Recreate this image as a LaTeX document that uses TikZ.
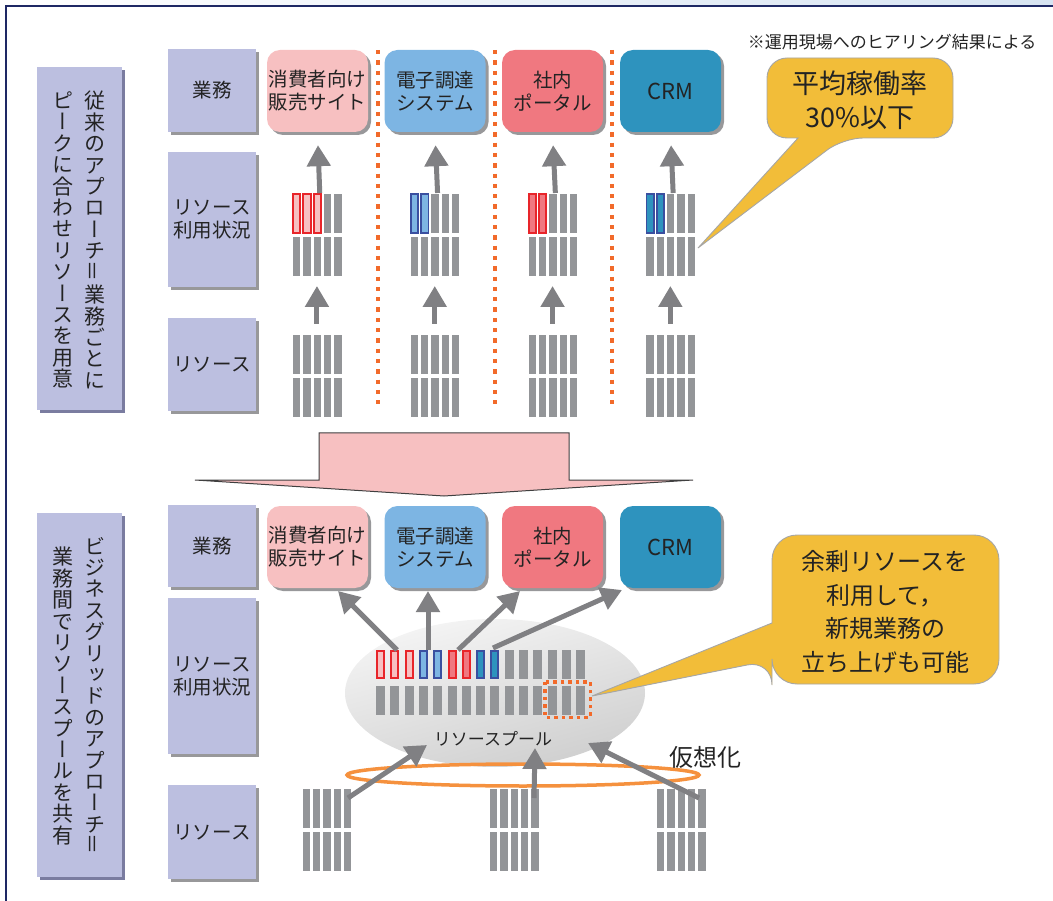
\documentclass[tikz,border=0pt]{standalone}
\usepackage{fontspec}
\usepackage{graphicx}
\setmainfont{Noto Sans CJK JP}
\newfontfamily\hjp{Noto Sans CJK JP}
\newfontfamily\vjp[RawFeature=+vert]{Noto Sans CJK JP}
\usetikzlibrary{arrows.meta,shadows,shapes.geometric}
\definecolor{lav}{RGB}{188,191,224}
\definecolor{lavsh}{RGB}{122,124,160}
\definecolor{sgray}{RGB}{152,152,154}
\definecolor{bargray}{RGB}{147,149,152}
\definecolor{agray}{RGB}{128,128,131}
\definecolor{cpink}{RGB}{247,192,193}
\definecolor{cblue}{RGB}{125,181,227}
\definecolor{cred}{RGB}{240,120,128}
\definecolor{cteal}{RGB}{46,147,190}
\definecolor{ored}{RGB}{232,37,42}
\definecolor{oblue}{RGB}{58,79,160}
\definecolor{sepor}{RGB}{242,106,42}
\definecolor{ringor}{RGB}{245,145,62}
\definecolor{gold}{RGB}{242,189,57}
\definecolor{navy}{RGB}{30,40,100}
\definecolor{topblue}{RGB}{215,228,242}
\definecolor{txt}{RGB}{35,35,35}
\newcommand\bargroup[2]{%
  \foreach \i in {0,...,4}{%
    \fill[bargray] ({#1+\i*10.3},#2) rectangle ++(7.3,39);
    \fill[bargray] ({#1+\i*10.3},{#2+43}) rectangle ++(7.3,39);
  }}
\tikzset{
  shd/.style={general shadow={fill=sgray, shadow xshift=3pt, shadow yshift=-3pt}},
  labbox/.style={fill=lav, minimum width=88pt, inner sep=0pt, text=txt, align=center,
     font=\fontsize{19.5}{23}\selectfont, shd},
  bigbox/.style={fill=lav, minimum width=85pt, inner sep=0pt,
     general shadow={fill=lavsh, shadow xshift=3pt, shadow yshift=-3pt}},
  vcol/.style={font=\vjp\fontsize{21}{21.4}\selectfont, text=txt, align=center, inner sep=0pt},
  biz/.style={rounded corners=13pt, minimum width=101pt, minimum height=82pt, inner sep=0pt,
     align=center, text=txt, font=\fontsize{19.5}{23}\selectfont, shd},
  garrow/.style={draw=agray, line width=5pt, -{Triangle[width=23pt,length=21pt]}},
  sepline/.style={draw=sepor, line width=4.3pt, dash pattern=on 4.3pt off 6pt},
  callout/.style={fill=gold, draw=gray!70, line width=0.9pt},
  cbar/.style={line width=1.8pt},
}
\begin{document}
\begin{tikzpicture}[x=1pt,y=-1pt]
\useasboundingbox (0,0) rectangle (1053,901);
% frame
\shade[left color=white, right color=topblue] (6,0) rectangle (1053,5);
\draw[navy, line width=1.6pt] (6,901) -- (6,6) -- (1053,6);

% left big labels
\node[bigbox, minimum height=343pt] (L1) at (79.5,238.5) {};
\node[vcol] (L1a) at (95,240) {従\\来\\の\\ア\\プ\\ロ\\ー\\チ\\{\hjp\rotatebox{90}{＝}}\\業\\務\\ご\\と\\に};
\node[vcol] (L1b) at (63,240) {ピ\\ー\\ク\\に\\合\\わ\\せ\\リ\\ソ\\ー\\ス\\を\\用\\意};
\node[bigbox, minimum height=364pt] (L2) at (79.5,695) {};
\node[vcol] (L2a) at (95,696) {ビ\\ジ\\ネ\\ス\\グ\\リ\\ッ\\ド\\の\\ア\\プ\\ロ\\ー\\チ\\{\hjp\rotatebox{90}{＝}}};
\node[vcol] (L2b) at (63,696) {業\\務\\間\\で\\リ\\ソ\\ー\\ス\\プ\\ー\\ル\\を\\共\\有};

% row label boxes
\node[labbox, minimum height=83pt] (g1) at (212,90.5) {業務};
\node[labbox, minimum height=135pt] (g2) at (212,219.5) {リソース\\利用状況};
\node[labbox, minimum height=93pt] (g3) at (212,364.5) {リソース};
\node[labbox, minimum height=82pt] (g4) at (212,546) {業務};
\node[labbox, minimum height=156pt] (g5) at (212,676) {リソース\\利用状況};
\node[labbox, minimum height=94pt] (g6) at (212,832) {リソース};

% separators
\foreach \x in {378,495,612} \draw[sepline] (\x,50) -- (\x,407);

% business boxes (top)
\node[biz, fill=cpink] (a1) at (317.5,91) {消費者向け\\販売サイト};
\node[biz, fill=cblue] (a2) at (435,91) {電子調達\\システム};
\node[biz, fill=cred] (a3) at (552.5,91) {社内\\ポータル};
\node[biz, fill=cteal, font=\fontsize{22}{26}\selectfont] (a4) at (670.5,91) {CRM};

% resource bars (top)
\foreach \k in {0,1,2,3}{
  \pgfmathsetmacro\xo{293+117.8*\k}
  \bargroup{\xo}{194}
  \bargroup{\xo}{335}
}
\foreach \i in {0,1,2} \filldraw[cbar, fill=cpink, draw=ored] ({293+\i*10.3},194) rectangle ++(7.3,39);
\foreach \i in {0,1} \filldraw[cbar, fill=cblue, draw=oblue] ({410.8+\i*10.3},194) rectangle ++(7.3,39);
\foreach \i in {0,1} \filldraw[cbar, fill=cred, draw=ored] ({528.6+\i*10.3},194) rectangle ++(7.3,39);
\foreach \i in {0,1} \filldraw[cbar, fill=cteal, draw=oblue] ({646.4+\i*10.3},194) rectangle ++(7.3,39);

% arrows (top)
\foreach \k/\bx in {1/a1,2/a2,3/a3,4/a4}{
  \pgfmathsetmacro\cx{317.25+117.8*(\k-1)}
  \coordinate (us\k) at ({\cx+2.5},193);
  \coordinate (rt\k) at ({\cx-0.3},324);
  \coordinate (ub\k) at ({\cx-0.3},286);
  \draw[garrow, shorten >=13pt] (us\k) -- (\bx.south);
  \draw[garrow] (rt\k) -- (ub\k);
}

% big pink down arrow
\draw[fill=cpink, draw=black!75, line width=1pt, line join=miter]
  (319,433) -- (569,433) -- (569,480) -- (693,480) -- (444,496) -- (195,480) -- (319,480) -- cycle;

% callout 1
\node[font=\fontsize{17}{20}\selectfont, text=txt, anchor=east] (note) at (1040,42) {※運用現場へのヒアリング結果による};
\draw[callout, rounded corners=20pt] (798,138) -- (767,138) -- (767,58) -- (953,58) -- (953,138) -- (843,138) [sharp corners] -- (698,248) -- cycle;
\node[font=\fontsize{27}{34}\selectfont, text=txt, align=center] (c1) at (860,100) {平均稼働率\\30\%以下};

% business boxes (bottom)
\node[biz, fill=cpink] (b1) at (317.5,547) {消費者向け\\販売サイト};
\node[biz, fill=cblue] (b2) at (435,547) {電子調達\\システム};
\node[biz, fill=cred] (b3) at (552.5,547) {社内\\ポータル};
\node[biz, fill=cteal, font=\fontsize{22}{26}\selectfont] (b4) at (670.5,547) {CRM};

% resource pool
\node[ellipse, minimum width=300pt, minimum height=148pt, inner sep=0pt,
      top color=gray!8, bottom color=gray!38, shading angle=15] (pool) at (495,693) {};
\draw[ringor, line width=3.5pt] (523,775) ellipse [x radius=176, y radius=11];
\foreach \i in {0,...,14} \fill[bargray] ({376+14.3*\i},686) rectangle ++(9,29);
\foreach \i in {9,...,14} \fill[bargray] ({376+14.3*\i},650) rectangle ++(9,29);
\foreach \i/\f/\d in {0/cpink/ored,1/cpink/ored,2/cpink/ored,3/cblue/oblue,4/cblue/oblue,5/cred/ored,6/cred/ored,7/cteal/oblue,8/cteal/oblue}
  \filldraw[line width=2pt, fill=\f, draw=\d] ({377+14.3*\i},651) rectangle ++(7,27);
\draw[sepor, line width=3.5pt, dash pattern=on 3.5pt off 4pt] (544.75,681.75) rectangle (590.25,717.25);
\node[font=\fontsize{17}{20}\selectfont, text=txt] (plabel) at (493,739) {リソースプール};

% pool -> business arrows
\coordinate (p1) at (397,650); \coordinate (q1) at (338,591);
\coordinate (p2) at (428,650); \coordinate (q2) at (428,591);
\coordinate (p3) at (458,650); \coordinate (q3) at (520,591);
\coordinate (p4) at (493,648); \coordinate (q4) at (622,590);
\foreach \k in {1,2,3,4} \draw[garrow] (p\k) -- (q\k);

% bottom resources
\bargroup{302.7}{789}
\bargroup{490}{789}
\bargroup{657}{789}
\coordinate (r1) at (348,798); \coordinate (s1) at (427,745);
\coordinate (r2) at (534,798); \coordinate (s2) at (535,748);
\coordinate (r3) at (699,798); \coordinate (s3) at (588,743);
\foreach \k in {1,2,3} \draw[garrow] (r\k) -- (s\k);
\node[font=\fontsize{24}{28}\selectfont, text=txt] (virt) at (705,757) {仮想化};

% callout 2
\draw[callout, rounded corners=25pt] (772,623) -- (772,535) -- (999,535) -- (999,684) -- (772,684) -- (772,660) [sharp corners] -- (592,696) -- cycle;
\node[font=\fontsize{24}{33.5}\selectfont, text=txt, align=center] (c2) at (885,612) {余剰リソースを\\利用して，\\新規業務の\\立ち上げも可能};
\end{tikzpicture}
\end{document}
